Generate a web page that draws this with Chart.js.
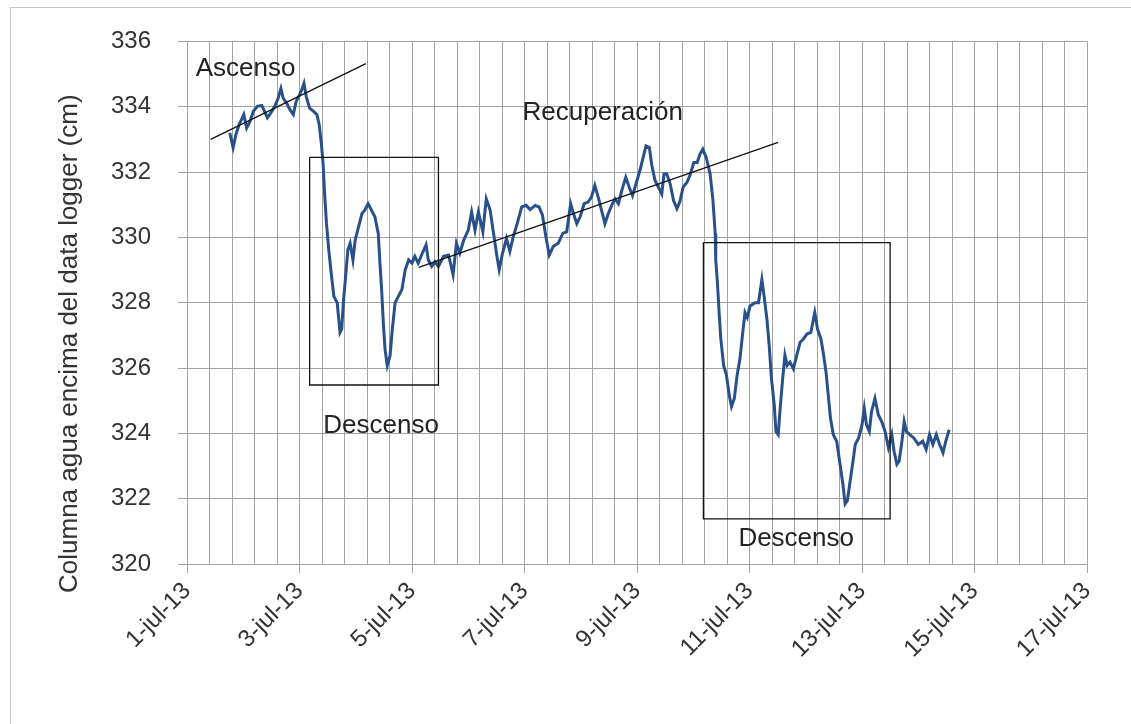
<!DOCTYPE html>
<html>
<head>
<meta charset="utf-8">
<title>Columna de agua - data logger</title>
<script src="https://cdn.jsdelivr.net/npm/chart.js@4/dist/chart.umd.min.js"></script>
<style>
  html, body { margin: 0; padding: 0; background: #fff; }
  canvas { display: block; }
</style>
</head>
<body>
<canvas id="nivelChart" width="1131" height="724"></canvas>
<script>
// Lecturas del data logger (dia de julio 2013, columna de agua en cm)
const dias = [
  1.76, 1.82, 1.87, 1.93, 1.97, 2.01, 2.06, 2.12, 2.18, 2.25, 2.33, 2.39, 2.43, 2.49, 2.56, 2.62, 2.67, 2.71, 2.77, 2.83,
  2.89, 2.94, 3.00, 3.04, 3.08, 3.12, 3.18, 3.25, 3.31, 3.35, 3.39, 3.42, 3.45, 3.48, 3.52, 3.57, 3.61, 3.67, 3.72, 3.75,
  3.78, 3.82, 3.86, 3.90, 3.95, 3.99, 4.05, 4.11, 4.16, 4.22, 4.28, 4.34, 4.40, 4.43, 4.46, 4.49, 4.52, 4.56, 4.61, 4.65,
  4.70, 4.76, 4.82, 4.88, 4.94, 5.00, 5.05, 5.11, 5.17, 5.25, 5.29, 5.35, 5.41, 5.47,
  5.50, 5.56, 5.65, 5.73, 5.79, 5.85, 5.92, 6.00, 6.06, 6.12, 6.18, 6.26, 6.32, 6.39, 6.45, 6.51, 6.55, 6.61, 6.68, 6.74,
  6.80, 6.87, 6.95, 7.03, 7.10, 7.19, 7.26, 7.32, 7.38, 7.44, 7.51, 7.60, 7.68, 7.75, 7.82, 7.87, 7.93, 7.99, 8.06, 8.13,
  8.19, 8.25, 8.31, 8.37, 8.43, 8.49, 8.55, 8.61, 8.67, 8.73, 8.80, 8.86, 8.92, 9.00, 9.05, 9.11, 9.16, 9.22, 9.26, 9.32,
  9.38, 9.44, 9.48, 9.53, 9.59, 9.65, 9.71, 9.76, 9.82, 9.89, 9.95, 10.01, 10.07, 10.12, 10.17, 10.23,
  10.30, 10.35, 10.39, 10.40, 10.43, 10.46, 10.49, 10.54, 10.59, 10.64, 10.68, 10.73, 10.78, 10.83, 10.88, 10.92, 10.96,
  11.01, 11.10, 11.16, 11.22, 11.26, 11.31, 11.35, 11.39, 11.44, 11.47, 11.51, 11.55, 11.59, 11.63, 11.67, 11.72, 11.78,
  11.84, 11.90, 11.96, 12.02, 12.09, 12.16, 12.21, 12.27, 12.31, 12.36, 12.40, 12.44, 12.49, 12.55, 12.61, 12.66, 12.70,
  12.74, 12.79, 12.84, 12.88, 12.94, 13.00, 13.04, 13.08, 13.13, 13.17, 13.23, 13.29, 13.35, 13.41, 13.47, 13.53, 13.57,
  13.62, 13.66, 13.71, 13.75, 13.79, 13.85, 13.92, 14.00, 14.08, 14.14, 14.20, 14.26, 14.32, 14.38, 14.44, 14.49, 14.55
];
const columnaAgua = [
  333.20, 332.75, 333.15, 333.47, 333.61, 333.76, 333.35, 333.55, 333.86, 334.01, 334.04, 333.81, 333.66, 333.81, 334.01, 334.26, 334.56, 334.26, 334.11, 333.91,
  333.76, 334.16, 334.36, 334.52, 334.72, 334.31, 333.96, 333.86, 333.76, 333.45, 332.85, 332.24, 331.23, 330.42, 329.62, 328.81, 328.20, 328.00, 327.09, 327.19,
  328.00, 328.81, 329.62, 329.82, 329.31, 329.92, 330.32, 330.73, 330.83, 331.03, 330.83, 330.63, 330.12, 329.21, 328.40, 327.39, 326.58, 326.08, 326.38, 327.19,
  328.00, 328.20, 328.40, 329.01, 329.31, 329.21, 329.42, 329.21, 329.46, 329.77, 329.31, 329.11, 329.26, 329.11,
  329.21, 329.42, 329.46, 328.86, 329.82, 329.52, 329.92, 330.22, 330.78, 330.22, 330.78, 330.17, 331.18, 330.83, 330.12, 329.42, 329.01, 329.52, 329.97, 329.57,
  330.02, 330.42, 330.93, 330.98, 330.85, 330.98, 330.93, 330.68, 330.02, 329.46, 329.72, 329.82, 330.12, 330.17, 331.03, 330.73, 330.42, 330.63, 331.03, 331.08,
  331.23, 331.59, 331.23, 330.83, 330.42, 330.73, 330.98, 331.18, 331.03, 331.44, 331.84, 331.54, 331.28, 331.74, 332.04, 332.45, 332.80, 332.75, 332.24, 331.74,
  331.54, 331.33, 331.94, 331.94, 331.64, 331.13, 330.88, 331.08, 331.54, 331.69, 331.94, 332.29, 332.29, 332.55, 332.70, 332.45,
  331.94, 331.13, 330.12, 329.31, 328.61, 327.70, 326.89, 326.08, 325.78, 325.17, 324.82, 325.07, 325.78, 326.28, 327.09, 327.70, 327.55,
  327.90, 328.00, 328.00, 328.71, 328.20, 327.49, 326.69, 325.68, 324.87, 324.06, 323.96, 324.87, 325.68, 326.39, 326.08, 326.18, 325.98,
  326.39, 326.79, 326.89, 327.04, 327.09, 327.70, 327.19, 326.89, 326.48, 325.88, 325.17, 324.46, 323.96, 323.76, 323.05, 322.45, 321.84,
  321.94, 322.55, 323.15, 323.66, 323.86, 324.26, 324.77, 324.26, 324.06, 324.67, 325.07, 324.57, 324.36, 324.06, 323.56, 323.96, 323.45,
  323.05, 323.15, 323.76, 324.36, 324.06, 323.96, 323.86, 323.66, 323.76, 323.51, 323.96, 323.66, 323.96, 323.66, 323.41, 323.76, 324.11
];

// Etiquetas del eje X (cada 2 dias)
const etiquetasDias = [1, 3, 5, 7, 9, 11, 13, 15, 17];
const etiquetasX = etiquetasDias.map(d => d + '-jul-13');

// Lineas de tendencia dibujadas a mano: [dia inicio, valor inicio, dia fin, valor fin]
const tendenciaAscenso = [1.42, 333.0, 4.18, 335.32];
const tendenciaRecuperacion = [5.12, 329.08, 11.51, 332.91];

// Recuadros de los descensos: [dia izq, dia der, valor sup, valor inf]
const recuadroDescenso1 = [3.18, 5.47, 332.45, 325.48];
const recuadroDescenso2 = [10.18, 13.50, 329.84, 321.38];

// Textos: [texto, dia, valor]
const rotulos = [
  ['Ascenso', 2.04, 335.15],
  ['Recuperación', 8.39, 333.82],
  ['Descenso', 4.45, 324.24],
  ['Descenso', 11.83, 320.76]
];

const segmento = t => [{ x: t[0], y: t[1] }, { x: t[2], y: t[3] }];
const rectangulo = r => [
  { x: r[0], y: r[2] }, { x: r[1], y: r[2] }, { x: r[1], y: r[3] },
  { x: r[0], y: r[3] }, { x: r[0], y: r[2] }
];

const FUENTE = "'Liberation Sans', Arial, sans-serif";
const GRIS = '#a3a3a3';

// Marco exterior, titulo del eje Y y rotulos
const extras = {
  id: 'extras',
  beforeDraw(chart) {
    const ctx = chart.ctx;
    ctx.save();
    ctx.fillStyle = '#fff';
    ctx.fillRect(0, 0, chart.width, chart.height);
    ctx.strokeStyle = '#c8c8c8';
    ctx.lineWidth = 1;
    ctx.strokeRect(10.5, 7.5, chart.width + 20, chart.height + 20);
    ctx.restore();
  },
  afterDatasetsDraw(chart) {
    const ctx = chart.ctx;
    const xs = chart.scales.x, ys = chart.scales.y;
    ctx.save();
    ctx.fillStyle = '#222';
    ctx.font = '26px ' + FUENTE;
    ctx.textAlign = 'center';
    ctx.textBaseline = 'middle';
    rotulos.forEach(([txt, d, v]) => {
      ctx.fillText(txt, xs.getPixelForValue(d), ys.getPixelForValue(v));
    });
    // titulo del eje Y
    ctx.translate(70, (chart.chartArea.top + chart.chartArea.bottom) / 2 + 41);
    ctx.rotate(-Math.PI / 2);
    ctx.fillStyle = '#333';
    ctx.font = '26px ' + FUENTE;
    ctx.fillText('Columna agua encima del data logger (cm)', 0, 0);
    ctx.restore();
  }
};

const ctx = document.getElementById('nivelChart').getContext('2d');
const nivelChart = new Chart(ctx, {
  type: 'line',
  data: {
    datasets: [
      {
        data: dias.map((d, i) => ({ x: d, y: columnaAgua[i] })),
        borderColor: '#28508a',
        borderWidth: 3,
        pointRadius: 0,
        tension: 0,
        order: 2
      },
      {
        data: segmento(tendenciaAscenso),
        borderColor: '#111',
        borderWidth: 1.3,
        pointRadius: 0,
        order: 1
      },
      {
        data: segmento(tendenciaRecuperacion),
        borderColor: '#111',
        borderWidth: 1.3,
        pointRadius: 0,
        order: 1
      },
      {
        data: rectangulo(recuadroDescenso1),
        borderColor: '#111',
        borderWidth: 1.3,
        pointRadius: 0,
        order: 1
      },
      {
        data: rectangulo(recuadroDescenso2),
        borderColor: '#111',
        borderWidth: 1.3,
        pointRadius: 0,
        order: 1
      }
    ]
  },
  options: {
    responsive: false,
    animation: false,
    layout: { padding: { left: 0, right: 44, top: 37, bottom: 0 } },
    plugins: {
      legend: { display: false },
      tooltip: { enabled: false }
    },
    scales: {
      x: {
        type: 'linear',
        min: 1,
        max: 17,
        border: { color: GRIS },
        grid: {
          color: GRIS,
          tickLength: 9,
          tickColor: c => (etiquetasDias.includes(Math.round(c.tick.value * 1000) / 1000) ? GRIS : 'rgba(0,0,0,0)')
        },
        ticks: {
          stepSize: 0.4,
          autoSkip: false,
          maxRotation: 45,
          minRotation: 45,
          padding: 4,
          color: '#333',
          font: { size: 24, family: FUENTE },
          callback: v => {
            const i = etiquetasDias.indexOf(Math.round(v * 1000) / 1000);
            return i >= 0 ? etiquetasX[i] : '';
          }
        },
        afterFit: s => { s.height = 160; }
      },
      y: {
        min: 320,
        max: 336,
        border: { color: GRIS },
        grid: { color: GRIS, tickLength: 9 },
        ticks: {
          stepSize: 2,
          padding: 27,
          color: '#333',
          font: { size: 24, family: FUENTE }
        },
        afterFit: s => { s.width = 187; }
      }
    }
  },
  plugins: [extras]
});
</script>
</body>
</html>
